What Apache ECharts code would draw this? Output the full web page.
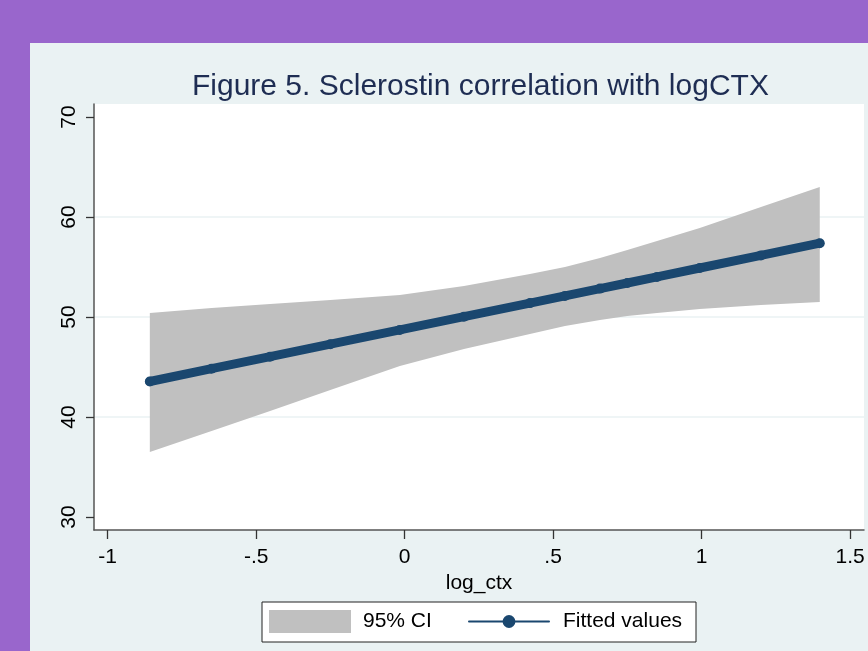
<!DOCTYPE html>
<html><head><meta charset="utf-8">
<script src="https://cdn.jsdelivr.net/npm/echarts@6/dist/echarts.min.js"></script>
<style>html,body{margin:0;padding:0;background:#9966cc}#c{width:868px;height:651px}</style>
</head><body><div id="c"></div>
<script>
const titleText = 'Figure 5. Sclerostin correlation with logCTX';
const xName = 'log_ctx';
const xVals   = [-0.858, -0.65, -0.453, -0.25, -0.016, 0.2, 0.422, 0.54, 0.658, 0.75, 0.85, 0.994, 1.2, 1.398];
const fitted  = [43.55, 44.83, 46.03, 47.28, 48.71, 50.03, 51.39, 52.11, 52.84, 53.40, 54.01, 54.90, 56.16, 57.38];
const ciLower = [36.5, 38.6, 40.6, 42.7, 45.1, 46.8, 48.3, 49.1, 49.7, 50.1, 50.4, 50.8, 51.2, 51.5];
const ciUpper = [50.4, 50.9, 51.3, 51.7, 52.2, 53.1, 54.3, 55.0, 55.9, 56.7, 57.6, 58.9, 61.0, 63.0];
const yTicks = [30, 40, 50, 60, 70];
const xTicks = [-1, -0.5, 0, 0.5, 1, 1.5];
const xTickLabels = ['-1', '-.5', '0', '.5', '1', '1.5'];

const FONT = "'Liberation Sans', Arial, sans-serif";
const chart = echarts.init(document.getElementById('c'), null, {renderer: 'canvas'});

const bandData = xVals.map((x, i) => [x, ciLower[i], ciUpper[i]]);
const fitData = xVals.map((x, i) => [x, fitted[i]]);

function renderBand(params, api) {
  if (params.dataIndex !== 0) return null;
  const upperPts = bandData.map(r => api.coord([r[0], r[2]]));
  const lowerPts = bandData.slice().reverse().map(r => api.coord([r[0], r[1]]));
  return {
    type: 'polygon',
    shape: {points: upperPts.concat(lowerPts)},
    style: {fill: '#c0c0c0', stroke: null},
    silent: true
  };
}

chart.setOption({
  backgroundColor: '#9966cc',
  animation: false,
  textStyle: {fontFamily: FONT},
  graphic: [
    {type: 'rect', z: -10, silent: true, shape: {x: 30, y: 43, width: 838, height: 608}, style: {fill: '#eaf2f3'}},
    {type: 'rect', z: 3, silent: true, shape: {x: 262, y: 602, width: 434, height: 40}, style: {fill: '#ffffff', stroke: '#222', lineWidth: 1}}
  ],
  title: {
    text: titleText, left: 192, top: 72, padding: 0,
    textStyle: {fontFamily: FONT, fontSize: 30, fontWeight: 'normal', color: '#1e2d53'}
  },
  grid: {left: 94, right: 4, top: 104, bottom: 121, show: true, backgroundColor: '#ffffff', borderWidth: 0, outerBoundsMode: 'none', containLabel: false},
  xAxis: {
    type: 'value', min: -1.046, max: 1.547,
    name: xName, nameLocation: 'middle', nameGap: 36,
    nameTextStyle: {fontFamily: FONT, fontSize: 21, color: '#000'},
    axisLine: {show: true, onZero: false, lineStyle: {color: '#555', width: 1.5}},
    axisTick: {show: true, length: 9, customValues: xTicks, lineStyle: {color: '#333', width: 1.3}},
    axisLabel: {customValues: xTicks, margin: 17, fontFamily: FONT, fontSize: 21, color: '#000',
      formatter: v => { const i = xTicks.findIndex(t => Math.abs(t - v) < 1e-9); return i >= 0 ? xTickLabels[i] : ''; }},
    splitLine: {show: false}
  },
  yAxis: {
    type: 'value', min: 28.7, max: 71.3,
    axisLine: {show: true, onZero: false, lineStyle: {color: '#555', width: 1.5}},
    axisTick: {show: true, length: 8, customValues: yTicks, lineStyle: {color: '#333', width: 1.3}},
    axisLabel: {customValues: yTicks, rotate: 90, margin: 14, fontFamily: FONT, fontSize: 21, color: '#000'},
    splitLine: {show: true, lineStyle: {color: ['rgba(0,0,0,0)', '#eaf2f3', '#eaf2f3', '#eaf2f3', 'rgba(0,0,0,0)'], width: 1.5}}
  },
  legend: [
    {data: ['95% CI'], left: 269, top: 610, padding: 0, itemWidth: 82, itemHeight: 23, icon: 'rect', z: 5,
      itemStyle: {color: '#c0c0c0'},
      textStyle: {fontFamily: FONT, fontSize: 21, color: '#000', padding: [3, 0, 0, 7]}, selectedMode: false},
    {data: ['Fitted values'], left: 468, top: 611, padding: 0, itemWidth: 80, itemHeight: 16, z: 5,
      lineStyle: {width: 2},
      textStyle: {fontFamily: FONT, fontSize: 21, color: '#000', padding: [3, 0, 0, 9]}, selectedMode: false}
  ],
  series: [
    {name: '95% CI', type: 'custom', data: bandData, renderItem: renderBand,
      encode: {x: 0, y: [1, 2]}, itemStyle: {color: '#c0c0c0'}, silent: true, z: 1},
    {name: 'Fitted values', type: 'line', data: fitData, symbol: 'circle', symbolSize: 10, showSymbol: true,
      itemStyle: {color: '#1a476f'}, lineStyle: {color: '#1a476f', width: 9, cap: 'round'}, z: 3}
  ]
});
</script></body></html>
